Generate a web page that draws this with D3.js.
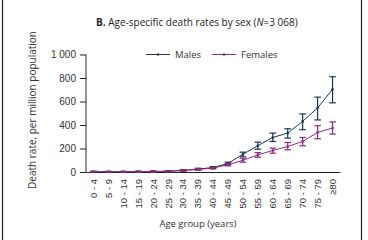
<!DOCTYPE html>
<html>
<head>
<meta charset="utf-8">
<script src="https://cdn.jsdelivr.net/npm/d3@7"></script>
<style>
body { margin: 0; background: #fff; }
svg { display: block; font-family: "Open Sans", "Noto Sans", sans-serif; }
</style>
</head>
<body>
<div id="chart"></div>
<script>
// age groups and rates (per million)
var ageGroups = ["0 - 4","5 - 9","10 - 14","15 - 19","20 - 24","25 - 29","30 - 34","35 - 39","40 - 44","45 - 49","50 - 54","55 - 59","60 - 64","65 - 69","70 - 74","75 - 79","\u226580"];
var males     = [2, 2, 2, 3, 4, 7, 14, 25, 38, 73, 150, 224, 294, 331, 431, 546, 703];
var malesLo   = [0, 0, 0, 0, 0, 2, 8, 18, 30, 62, 130, 194, 260, 289, 360, 443, 589];
var malesHi   = [6, 5, 5, 7, 9, 12, 20, 32, 46, 84, 169, 254, 331, 368, 494, 637, 811];
var females   = [2, 2, 2, 2, 3, 6, 13, 22, 33, 62, 100, 146, 183, 217, 260, 337, 374];
var femalesLo = [0, 0, 0, 0, 0, 2, 8, 16, 26, 52, 83, 126, 160, 189, 223, 283, 323];
var femalesHi = [6, 5, 5, 6, 8, 10, 18, 28, 40, 72, 117, 165, 203, 251, 294, 394, 426];
var yTicks = [0, 200, 400, 600, 800, 1000];
var yTickLabels = ["0", "200", "400", "600", "800", "1 000"];

var W = 368, H = 240;
var maleColor = "#1d3550", femaleColor = "#8e2a80";

var svg = d3.select("#chart").append("svg")
    .attr("width", W)
    .attr("height", H);

// frame sides
svg.append("line").attr("x1", 2.5).attr("x2", 2.5).attr("y1", 0).attr("y2", H)
    .attr("stroke", "#222").attr("stroke-width", 1.2);
svg.append("line").attr("x1", 361.5).attr("x2", 361.5).attr("y1", 0).attr("y2", H)
    .attr("stroke", "#222").attr("stroke-width", 1.2);

var x = d3.scaleBand()
    .domain(ageGroups)
    .range([86, 340]);

var y = d3.scaleLinear()
    .domain([0, 1000])
    .range([172, 54.5]);

// y axis
var yAxis = svg.append("g")
    .attr("transform", "translate(86,0)")
    .call(d3.axisLeft(y).tickValues(yTicks).tickSize(6).tickPadding(4).tickFormat(function(d, i){
        return yTickLabels[i];
    }));
yAxis.select(".domain").attr("stroke", "#222").attr("d", "M0," + y(1000) + "V" + y(0));
yAxis.selectAll(".tick line").attr("stroke", "#222");
yAxis.selectAll("text").attr("font-size", "10px").attr("fill", "#333");

// x axis
var xAxis = svg.append("g")
    .attr("transform", "translate(0,172)")
    .call(d3.axisBottom(x).tickSize(0).tickPadding(0));
xAxis.select(".domain").attr("stroke", "#222");
xAxis.selectAll("text")
    .attr("font-size", "9.5px")
    .attr("fill", "#333")
    .attr("text-anchor", "end")
    .attr("dy", "0.35em")
    .attr("transform", "translate(0,7) rotate(-90)")
    .attr("x", 0).attr("y", 0);

var cx = function(i) { return x(ageGroups[i]) + x.bandwidth() / 2; };

function drawSeries(vals, lo, hi, color) {
    var g = svg.append("g");
    var line = d3.line()
        .x(function(d, i) { return cx(i); })
        .y(function(d) { return y(d); });
    g.append("path")
        .datum(vals)
        .attr("fill", "none")
        .attr("stroke", color)
        .attr("stroke-width", 1)
        .attr("d", line);
    vals.forEach(function(v, i) {
        var xx = cx(i);
        g.append("line").attr("x1", xx).attr("x2", xx).attr("y1", y(lo[i])).attr("y2", y(hi[i]))
            .attr("stroke", color).attr("stroke-width", 1.2);
        [lo[i], hi[i]].forEach(function(e) {
            g.append("line").attr("x1", xx - 3.3).attr("x2", xx + 3.3).attr("y1", y(e)).attr("y2", y(e))
                .attr("stroke", color).attr("stroke-width", 1.2);
        });
        g.append("circle").attr("cx", xx).attr("cy", y(v)).attr("r", 1.3).attr("fill", color);
    });
}
drawSeries(males, malesLo, malesHi, maleColor);
drawSeries(females, femalesLo, femalesHi, femaleColor);

// legend
var legend = [{name: "Males", color: maleColor, x: 146}, {name: "Females", color: femaleColor, x: 212}];
legend.forEach(function(l) {
    svg.append("line").attr("x1", l.x).attr("x2", l.x + 24).attr("y1", 54.5).attr("y2", 54.5)
        .attr("stroke", l.color).attr("stroke-width", 1);
    svg.append("circle").attr("cx", l.x + 12).attr("cy", 54.5).attr("r", 1.2).attr("fill", l.color);
    svg.append("text").attr("x", l.x + 29).attr("y", 58)
        .attr("font-size", "9.5px").attr("fill", "#333").text(l.name);
});

// title
var title = svg.append("text").attr("x", 96).attr("y", 26).attr("font-size", "10px").attr("fill", "#222");
title.append("tspan").attr("font-weight", "bold").text("B.");
title.append("tspan").text(" Age-specific death rates by sex (");
title.append("tspan").attr("font-style", "italic").text("N");
title.append("tspan").text("=3 068)");

// axis titles
svg.append("text")
    .attr("x", 198).attr("y", 226.5)
    .attr("text-anchor", "middle")
    .attr("font-size", "9.5px").attr("fill", "#333")
    .text("Age group (years)");

svg.append("text")
    .attr("transform", "translate(36,110) rotate(-90)")
    .attr("text-anchor", "middle")
    .attr("font-size", "10px").attr("fill", "#333")
    .text("Death rate, per million population");
</script>
</body>
</html>
